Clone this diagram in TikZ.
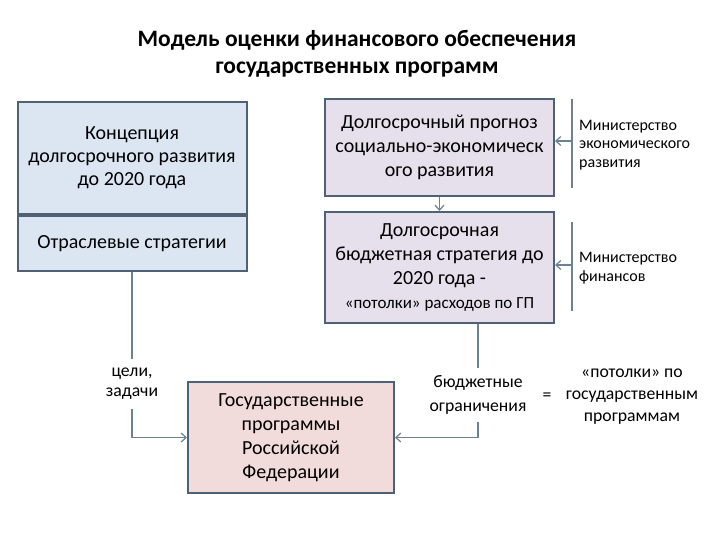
\documentclass[tikz,border=0pt]{standalone}
\usepackage{fontspec}
\setmainfont{Carlito}
\usetikzlibrary{arrows.meta}

\definecolor{boxline}{HTML}{4F6174}
\definecolor{linkline}{HTML}{6A8294}
\definecolor{bluefill}{HTML}{DCE6F2}
\definecolor{lilacfill}{HTML}{E5E0EC}
\definecolor{pinkfill}{HTML}{F2DCDB}

\tikzset{
  blok/.style={draw=boxline, line width=2pt, align=center, inner sep=0pt,
    font=\fontsize{20}{24}\selectfont},
  link/.style={draw=linkline, line width=1.2pt},
  arr/.style={link, -{Straight Barb[length=5pt,width=9pt]}},
  note/.style={align=center, inner sep=0pt, font=\fontsize{17.7}{22}\selectfont},
  small/.style={align=left, anchor=west, inner sep=0pt, font=\fontsize{16}{18.5}\selectfont}
}

\begin{document}
\begin{tikzpicture}[x=1pt,y=-1pt]
\useasboundingbox (0,0) rectangle (720,540);

\node[font=\fontsize{23.5}{27}\selectfont\bfseries, align=center] (title) at (357,54)
  {Модель оценки финансового обеспечения\\государственных программ};

% left column
\node[blok, fill=bluefill, minimum width=229, minimum height=112, font=\fontsize{20}{23}\selectfont] (concept) at (132,158)
  {Концепция\\долгосрочного развития\\до 2020 года};
\node[blok, fill=bluefill, minimum width=229, minimum height=55] (branch) at (132,243.5)
  {Отраслевые стратегии};

% right column
\node[blok, fill=lilacfill, minimum width=229, minimum height=97] (forecast) at (439.5,147.5)
  {Долгосрочный прогноз\\социально-экономическ\\ого развития};
\node[blok, fill=lilacfill, minimum width=229, minimum height=111] (budget) at (439.5,267.5)
  {Долгосрочная\\бюджетная стратегия до\\2020 года -\\{\fontsize{17}{24}\selectfont«потолки» расходов по ГП}};

% bottom
\node[blok, fill=pinkfill, minimum width=206, minimum height=111] (gosprog) at (291,437.5)
  {Государственные\\программы\\Российской\\Федерации};

% ministries
\coordinate (mer top) at (572,99);
\coordinate (mer mid) at (572,141);
\coordinate (mer bot) at (572,188);
\coordinate (mf top) at (572,222);
\coordinate (mf mid) at (572,265);
\coordinate (mf bot) at (572,311);
\draw[link] (mer top) -- (mer bot);
\draw[link] (mf top) -- (mf bot);
\draw[arr] (mer mid) -- (mer mid -| forecast.east);
\draw[arr] (mf mid) -- (mf mid -| budget.east);
\node[small] (mer) at (579,145) {Министерство\\экономического\\развития};
\node[small] (mf) at (579,268) {Министерство\\финансов};

\draw[arr] (forecast) -- (budget);

% goals
\node[note, inner ysep=9pt, font=\fontsize{17.7}{20}\selectfont] (goals) at (132,384) {цели,\\задачи};
\draw[link] (branch) -- (goals);
\draw[arr] (goals) |- (gosprog);

% limits
\node[note, inner ysep=7pt, font=\fontsize{17.7}{24}\selectfont] (limits) at (478,395) {бюджетные\\ограничения};
\draw[link] (budget.south -| limits) -- (limits);
\draw[arr] (limits) |- (gosprog);

\node[note] (eq) at (547,397) {=};
\node[note] (ceil) at (632,397) {«потолки» по\\государственным\\программам};
\end{tikzpicture}
\end{document}
